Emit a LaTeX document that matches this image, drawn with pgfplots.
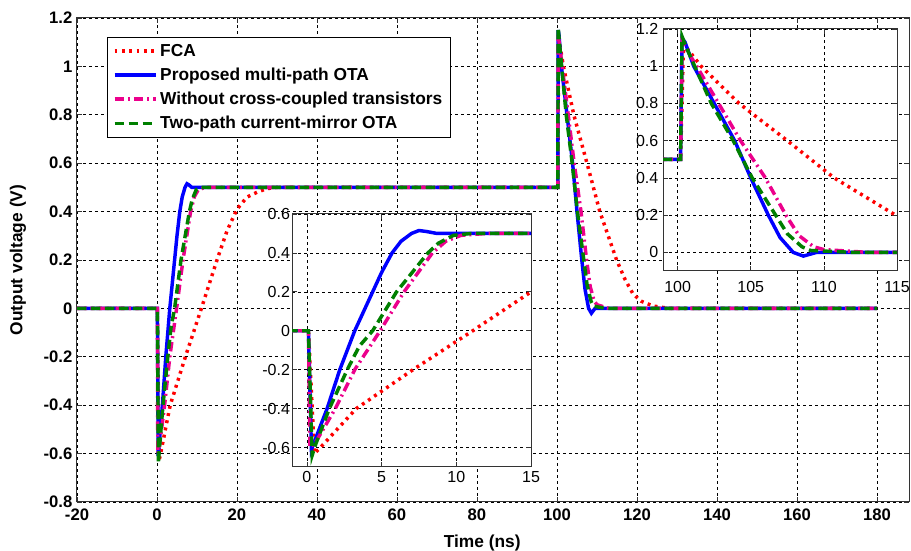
\documentclass[border=0pt]{standalone}
\usepackage{pgfplots}
\usepackage{pgfplotstable}
\pgfplotsset{compat=1.18}
\usetikzlibrary{calc}
\usepackage{fontspec}
\setmainfont{Liberation Sans}

\definecolor{dgreen}{rgb}{0,0.5,0}

% output voltage (V) vs time (ns)
\pgfplotstableread{
t v
-20 0
0.1 0
0.5 -0.63
0.9 -0.6
3.3 -0.4
7.1 -0.2
11.1 0
15 0.2
17.5 0.32
20 0.41
22.5 0.46
25 0.48
27.5 0.495
30 0.5
100 0.5
100.2 0.5
100.4 1.12
101.6 1.0
104.2 0.8
107.5 0.6
110.7 0.4
114.9 0.2
117 0.12
119 0.06
121 0.03
124 0.01
128 0
180 0
}\fca

\pgfplotstableread{
t v
-20 0
0.1 0
0.3 -0.61
0.6 -0.55
1.35 -0.4
2.2 -0.2
3.2 0
4.4 0.2
5.0 0.3
5.7 0.4
6.3 0.46
7.0 0.5
7.5 0.515
8.0 0.51
8.7 0.5
100 0.5
100.2 0.5
100.3 1.15
100.5 1.13
101.1 1.0
102.5 0.8
103.9 0.6
105.0 0.4
106.2 0.2
107.0 0.08
107.9 0.0
108.6 -0.02
109.5 0
180 0
}\prop

\pgfplotstableread{
t v
-20 0
0.1 0
0.2 -0.6
0.6 -0.57
1.9 -0.4
3.2 -0.2
4.9 0
6.5 0.2
8.4 0.4
9.3 0.46
10.3 0.49
12 0.5
100 0.5
100.2 0.5
100.3 1.13
101.3 1.0
102.8 0.8
104.3 0.6
106.0 0.4
107.4 0.2
108.3 0.09
109.3 0.03
110 0.015
112 0.005
113 0
180 0
}\nocc

\pgfplotstableread{
t v
-20 0
0.1 0
0.35 -0.64
0.6 -0.58
1.5 -0.4
2.7 -0.2
3.5 -0.08
4.4 0
6.0 0.2
8.1 0.4
8.8 0.45
9.8 0.49
11 0.5
100 0.5
100.2 0.5
100.3 1.16
100.6 1.1
102.3 0.8
103.8 0.6
105.1 0.4
106.7 0.2
107.5 0.1
108.5 0.03
109.1 0.01
112 0
180 0
}\twopath

\pgfplotsset{
  sFCA/.style={red, line width=2.6pt, dash pattern=on 2.2pt off 3.3pt},
  sPROP/.style={blue, line width=2.6pt},
  sNOCC/.style={magenta, line width=2.6pt, dash pattern=on 7pt off 3pt on 1.5pt off 3pt},
  sTWO/.style={dgreen, line width=2.6pt, dash pattern=on 7pt off 3.5pt},
  mygrid/.style={
    grid=major,
    major grid style={black, line width=0.5pt, dash pattern=on 2.25pt off 2.25pt},
    axis line style={line width=0.75pt, black!80},
    tick align=inside,
    major tick style={black!80, line width=0.6pt},
    major tick length=4pt,
    /pgf/number format/assume math mode=true,
  },
}

\begin{document}
\begin{tikzpicture}
\begin{axis}[
  name=main,
  mygrid,
  scale only axis,
  width=624pt, height=363pt,
  xmin=-20, xmax=188, ymin=-0.8, ymax=1.2,
  xtick={-20,0,...,180},
  ytick={-0.8,-0.6,...,1.2},
  ticklabel style={font=\fontsize{12.5}{14}\selectfont\bfseries},
  xticklabel style={yshift=-1.5pt},
  xlabel={Time (ns)},
  ylabel={Output voltage (V)},
  label style={font=\fontsize{13}{15}\selectfont\bfseries},
  xlabel style={at={(axis description cs:0.487,-0.095)}, anchor=base},
  ylabel style={at={(axis description cs:-0.0709,0.5)}, anchor=center},
  legend style={at={(axis description cs:0.036,0.961)}, anchor=north west,
    font=\fontsize{13}{15}\selectfont\bfseries, draw=black, line width=0.75pt,
    legend cell align=left, row sep=3.2pt, inner xsep=4pt, inner ysep=3pt},
  legend image code/.code={\draw[#1] (0pt,0pt) -- (31pt,0pt);},
]
\addplot[sFCA] table[x=t,y=v]{\fca};
\addlegendentry{FCA}
\addplot[sPROP] table[x=t,y=v]{\prop};
\addlegendentry{Proposed multi-path OTA}
\addplot[sNOCC] table[x=t,y=v]{\nocc};
\addlegendentry{Without cross-coupled transistors}
\addplot[sTWO] table[x=t,y=v]{\twopath};
\addlegendentry{Two-path current-mirror OTA}
\end{axis}

\begin{axis}[
  at={($(main.south west)+(161.25pt,26.25pt)$)}, anchor=south west,
  mygrid,
  scale only axis,
  width=179.25pt, height=189.75pt,
  axis background/.style={fill=white},
  xmin=-1, xmax=15, ymin=-0.7, ymax=0.6,
  xtick={0,5,10,15},
  ytick={-0.6,-0.4,...,0.6},
  ticklabel style={font=\fontsize{12}{14}\selectfont},
  yticklabel style={xshift=2pt},
]
\addplot[sFCA] table[x=t,y=v]{\fca};
\addplot[sPROP] table[x=t,y=v]{\prop};
\addplot[sNOCC] table[x=t,y=v]{\nocc};
\addplot[sTWO] table[x=t,y=v]{\twopath};
\end{axis}

\begin{axis}[
  at={($(main.south west)+(439.5pt,173.25pt)$)}, anchor=south west,
  mygrid,
  scale only axis,
  width=175.5pt, height=181.5pt,
  axis background/.style={fill=white},
  xmin=99, xmax=115, ymin=-0.1, ymax=1.2,
  xtick={100,105,110,115},
  ytick={0,0.2,...,1.2},
  ticklabel style={font=\fontsize{12}{14}\selectfont},
  xticklabel style={yshift=-4pt},
]
\addplot[sFCA] table[x=t,y=v]{\fca};
\addplot[sPROP] table[x=t,y=v]{\prop};
\addplot[sNOCC] table[x=t,y=v]{\nocc};
\addplot[sTWO] table[x=t,y=v]{\twopath};
\end{axis}

\pgfresetboundingbox
\path[use as bounding box] ($(main.south west)+(-57.75pt,-36.75pt)$) rectangle ($(main.north east)+(1.5pt,13.5pt)$);
\end{tikzpicture}
\end{document}
